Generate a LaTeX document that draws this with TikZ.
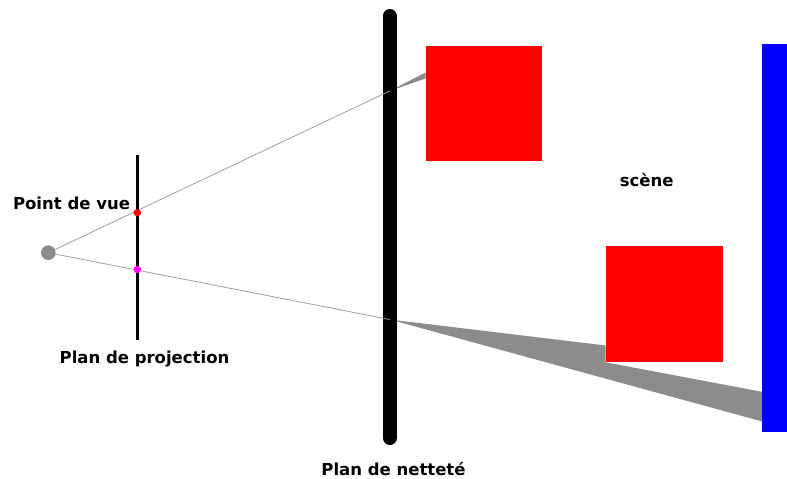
\documentclass[tikz,border=0pt]{standalone}
\usepackage{fontspec}
\setmainfont{DejaVu Sans}
\definecolor{conegray}{RGB}{140,140,140}
\definecolor{raygray}{RGB}{160,160,160}
\definecolor{dotred}{RGB}{255,0,0}
\definecolor{dotpink}{RGB}{255,0,255}
\definecolor{scenered}{RGB}{255,0,0}
\definecolor{sceneblue}{RGB}{0,0,255}
\begin{document}
\begin{tikzpicture}[x=1pt,y=-1pt,
  lbl/.style={font=\fontsize{16.5}{18}\selectfont\bfseries,anchor=base},
  dot/.style={circle,inner sep=0pt,minimum size=7.5pt},
  ray/.style={draw=raygray,line width=0.8pt}]
  \useasboundingbox (0,0) rectangle (787,479);
  % eye and the points where the rays meet the focus plane
  \coordinate (eyec) at (48.3,252.7);
  \coordinate (fa) at (389.7,91);
  \coordinate (fb) at (389.7,319.5);
  % blur cones
  \fill[conegray] (fa) -- (425.5,72.5) -- (425.5,78.5) -- cycle;
  \fill[conegray] (fb) -- (605.7,345.5) -- (605.7,362.3) -- (763,392)
    -- (763,421.7) -- cycle;
  % scene
  \fill[scenered] (425.5,45.7) rectangle (542,161);
  \fill[scenered] (605.7,246) rectangle (722.7,362.3);
  \fill[sceneblue] (762.3,44) rectangle (787,431.7);
  \draw[line width=14pt,line cap=round] (389.7,16) -- (389.7,438);
  % rays
  \draw[ray] (eyec) -- (fa);
  \draw[ray] (eyec) -- (fb);
  \draw[line width=3.5pt] (137.3,155) -- (137.3,340);
  \node[circle,fill=conegray,inner sep=0pt,minimum size=14.6pt] (eye) at (eyec) {};
  \node[dot,fill=dotred] (pa) at (137.3,212.7) {};
  \node[dot,fill=dotpink] (pb) at (137.3,269.5) {};
  \node[lbl] (pv) at (71.5,209) {Point de vue};
  \node[lbl] (pp) at (144.5,363) {Plan de projection};
  \node[lbl] (pn) at (393.5,475) {Plan de netteté};
  \node[lbl] (sc) at (646.7,186.7) {scène};
\end{tikzpicture}
\end{document}
